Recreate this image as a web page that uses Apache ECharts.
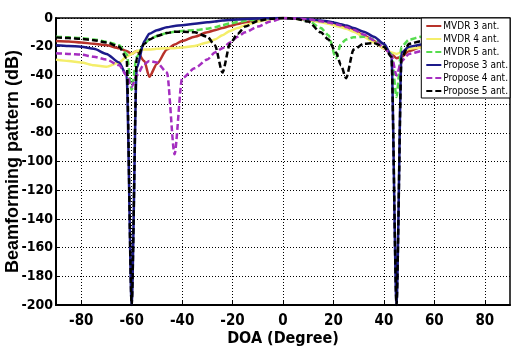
<!DOCTYPE html>
<html>
<head>
<meta charset="utf-8">
<script src="https://cdn.jsdelivr.net/npm/echarts@6/dist/echarts.min.js"></script>
<style>
  html, body { margin: 0; padding: 0; background: #fff; }
  #chart { width: 512px; height: 347px; }
</style>
</head>
<body>
<div id="chart"></div>
<script>
// DOA sample points (degrees), shared by every curve
const doa = [-90, -85, -80, -75, -70, -65, -62, -60, -58, -55, -53, -50, -46, -43, -40, -35, -30, -27, -24, -21, -18, -15, -10, -5, 0,
  5, 10, 15, 18, 21, 23, 25, 28, 32, 36, 40, 43, 45, 47, 50, 55, 60, 70, 80, 90];

// beamforming pattern (dB)
const mvdr3 = [-16, -16.3, -17, -18, -19, -21, -23, -25, -23, -30, -41, -32, -22, -18.5, -16, -13, -10, -8.5, -7, -5.5, -4.2, -3, -1.5, -0.4, 0,
  -0.3, -1, -2.3, -3.3, -4.5, -5.5, -6.5, -8.5, -12, -16, -21, -25, -28, -27, -23, -20, -19, -17.5, -16.5, -16];
const mvdr4 = [-29, -30, -31, -33, -34, -31, -27, -25, -23, -22, -22, -21.5, -21, -21, -20.5, -19.5, -17, -15, -12, -9, -7, -5, -2.5, -0.8, 0,
  -0.5, -1.5, -3, -4, -5.5, -6.5, -7.5, -9.5, -13, -17, -21, -24, -25, -24, -21.5, -20.5, -20, -21, -23, -25];
const mvdr5 = [-13, -13.5, -14, -15, -16.5, -19, -25, -50, -27, -18, -15, -12.5, -10.5, -9.5, -9, -8.5, -7.5, -6.5, -5, -3.8, -2.8, -2, -0.9, -0.2, 0,
  -0.4, -2, -7, -12, -28, -18, -15, -13.5, -13, -15, -19.5, -25, -55, -20, -15, -13, -12, -12, -12.5, -13];
const prop3 = [-19, -19.5, -20, -21.5, -25, -31, -40, -200, -35, -16, -11, -8.5, -6.5, -5.5, -5, -4, -3, -2.5, -1.8, -1.4, -1, -0.7, -0.3, -0.1, 0,
  -0.2, -0.8, -1.8, -2.5, -3.5, -4.3, -5.2, -7, -9.5, -13, -18, -26, -200, -24, -20, -18.5, -17.5, -17, -17.5, -18];
const prop4 = [-24.5, -25, -25.5, -27, -29, -33, -40, -48, -40, -32, -30, -31, -38, -95, -42, -35, -29, -24, -21, -17, -13, -10, -6, -2.5, 0,
  -0.3, -1, -2.2, -3.2, -4.3, -5.3, -6.3, -8.2, -11.5, -15.5, -20.5, -26, -40, -30, -25, -23, -21, -20, -20, -21];
const prop5 = [-13.5, -14, -14.5, -15.5, -17, -20, -28, -200, -28, -18, -15, -12.5, -10.5, -9.5, -9.5, -10, -13, -19, -38, -18, -11, -6, -2, -0.5, 0,
  -0.5, -2.5, -10, -15, -24, -33, -42, -22, -18, -17.5, -20, -27, -200, -28, -18, -16, -15, -14.5, -14, -14];

const seriesNames = ['MVDR 3 ant.', 'MVDR 4 ant.', 'MVDR 5 ant.', 'Propose 3 ant.', 'Propose 4 ant.', 'Propose 5 ant.'];
const xTicks = [-80, -60, -40, -20, 0, 20, 40, 60, 80];

const chart = echarts.init(document.getElementById('chart'));

const mk = (name, vals, color, dashed) => ({
  name,
  type: 'line',
  data: doa.map((d, i) => [d, vals[i]]),
  showSymbol: false,
  symbol: 'none',
  smooth: 0.25,
  smoothMonotone: 'x',
  clip: true,
  lineStyle: { width: 2.5, color, type: dashed ? [6, 3] : 'solid' },
  itemStyle: { color }
});

const narrow = "'DejaVu Sans Condensed', 'Liberation Sans', sans-serif";
const numFont = { color: '#000', fontFamily: narrow, fontWeight: 'bold', fontSize: 14 };

chart.setOption({
  animation: false,
  grid: {
    left: 56, right: 2, top: 18, bottom: 42,
    outerBoundsMode: 'none',
    containLabel: false,
    show: true, borderColor: '#000', borderWidth: 1.5, backgroundColor: '#fff'
  },
  legend: {
    data: seriesNames,
    orient: 'vertical',
    right: 2,
    top: 18,
    itemWidth: 15,
    itemHeight: 10,
    itemGap: 3,
    padding: [3, 2, 2, 4],
    backgroundColor: '#fff',
    borderColor: '#000',
    borderWidth: 1,
    itemStyle: { opacity: 0 },
    textStyle: { color: '#000', fontFamily: narrow, fontSize: 10, padding: [0, 0, 0, -3] }
  },
  xAxis: {
    type: 'value',
    min: -90, max: 90,
    name: 'DOA (Degree)',
    nameLocation: 'middle',
    nameGap: 26,
    nameMoveOverlap: false,
    nameTextStyle: { color: '#000', fontFamily: narrow, fontWeight: 'bold', fontSize: 16 },
    axisLine: { onZero: false, lineStyle: { color: '#000', width: 2 } },
    axisTick: { inside: true, length: 4, customValues: xTicks, lineStyle: { color: '#000' } },
    axisLabel: { margin: 9, customValues: xTicks, ...numFont, fontSize: 15 },
    splitLine: { show: true, lineStyle: { color: '#000', type: [1, 2], width: 1 } }
  },
  yAxis: {
    type: 'value',
    min: -200, max: 0, interval: 20,
    name: 'Beamforming pattern (dB)',
    nameLocation: 'middle',
    nameGap: 34,
    nameMoveOverlap: false,
    nameTextStyle: { color: '#000', fontFamily: 'Liberation Sans', fontWeight: 'bold', fontSize: 18 },
    axisLine: { onZero: false, lineStyle: { color: '#000', width: 2 } },
    axisTick: { inside: true, length: 4, lineStyle: { color: '#000' } },
    axisLabel: { margin: 3, ...numFont },
    splitLine: { show: true, lineStyle: { color: '#000', type: [1, 2], width: 1 } }
  },
  series: [
    mk(seriesNames[0], mvdr3, '#b8322a', false),
    mk(seriesNames[1], mvdr4, '#f4ee6a', false),
    mk(seriesNames[2], mvdr5, '#56dc4e', true),
    mk(seriesNames[3], prop3, '#1c1a8a', false),
    mk(seriesNames[4], prop4, '#a52ec0', true),
    mk(seriesNames[5], prop5, '#000000', true)
  ]
});
</script>
</body>
</html>
